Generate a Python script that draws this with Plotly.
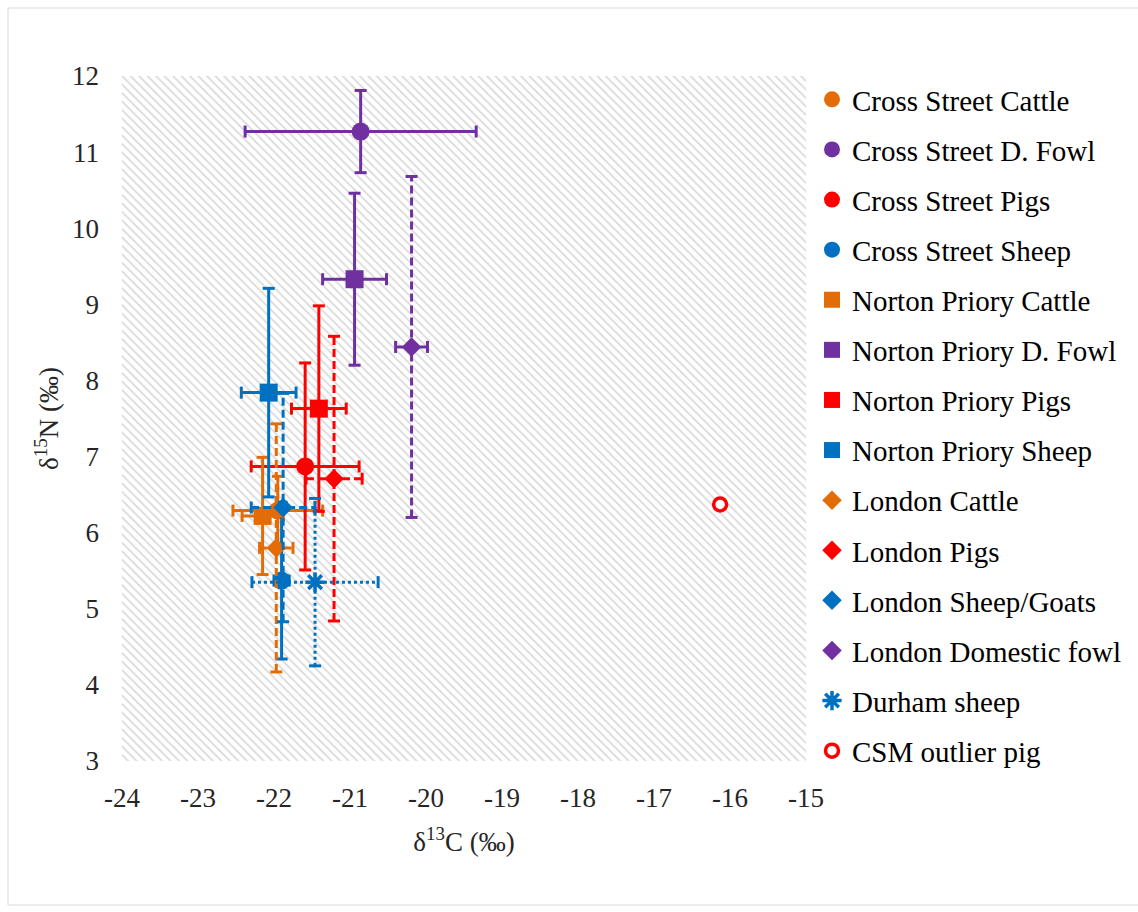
import plotly.graph_objects as go

# ---------------- data ----------------
series_names = [
    "Cross Street Cattle", "Cross Street D. Fowl", "Cross Street Pigs", "Cross Street Sheep",
    "Norton Priory Cattle", "Norton Priory D. Fowl", "Norton Priory Pigs", "Norton Priory Sheep",
    "London Cattle", "London Pigs", "London Sheep/Goats", "London Domestic fowl",
    "Durham sheep", "CSM outlier pig",
]
d13C = [-21.95, -20.86, -21.59, -21.90,
        -22.15, -20.94, -21.41, -22.07,
        -21.97, -21.21, -21.88, -20.19,
        -21.46, -16.13]
d15N = [6.29, 11.27, 6.87, 5.37,
        6.22, 9.33, 7.63, 7.84,
        5.80, 6.71, 6.33, 8.44,
        5.35, 6.37]
d13C_err = [0.59, 1.52, 0.71, 0.10,
            0.27, 0.42, 0.36, 0.36,
            0.22, 0.37, 0.42, 0.21,
            0.83, None]
d15N_err = [0.45, 0.54, 1.36, 1.03,
            0.77, 1.13, 1.35, 1.37,
            1.63, 1.87, 1.50, 2.24,
            1.10, None]

x_ticks = [-24, -23, -22, -21, -20, -19, -18, -17, -16, -15]
y_ticks = [3, 4, 5, 6, 7, 8, 9, 10, 11, 12]

# ---------------- styles ----------------
ORANGE, PURPLE, RED, BLUE = "#E36C09", "#7030A0", "#FF0000", "#0070C0"
colors = [ORANGE, PURPLE, RED, BLUE, ORANGE, PURPLE, RED, BLUE,
          ORANGE, RED, BLUE, PURPLE, BLUE, RED]
symbols = ["circle"] * 4 + ["square"] * 4 + ["diamond"] * 4 + ["asterisk-open", "circle"]
sizes = [18] * 4 + [18] * 4 + [15] * 4 + [16, 13]
dashes = ["solid"] * 8 + ["8px,4px"] * 4 + ["3px,3px", "solid"]

W, H = 1138, 912
ML, MR, MT, MB = 122, 332, 76, 151
plot_w, plot_h = W - ML - MR, H - MT - MB
x_range = [x_ticks[0], x_ticks[-1]]
y_range = [y_ticks[0], y_ticks[-1]]
dx_px = (x_range[1] - x_range[0]) / plot_w
dy_px = (y_range[1] - y_range[0]) / plot_h
CAP = 6  # cap half-length in px
FONT = "Liberation Serif"

fig = go.Figure()

# hatched plot background
fig.add_trace(go.Scatter(
    x=[x_range[0], x_range[1], x_range[1], x_range[0], x_range[0]],
    y=[y_range[0], y_range[0], y_range[1], y_range[1], y_range[0]],
    mode="lines", fill="toself", line=dict(width=0),
    fillcolor="white",
    fillpattern=dict(shape="\\", fgcolor="#b4b4b4", bgcolor="white", size=6, solidity=0.3),
    hoverinfo="skip", showlegend=False,
))

for i, name in enumerate(series_names):
    x, y, ex, ey = d13C[i], d15N[i], d13C_err[i], d15N_err[i]
    c = colors[i]
    if ex is not None:
        fig.add_trace(go.Scatter(
            x=[x - ex, x + ex, None, x, x],
            y=[y, y, None, y - ey, y + ey],
            mode="lines", line=dict(color=c, width=3, dash=dashes[i]),
            hoverinfo="skip", showlegend=False, legendgroup=name,
        ))
        cw, ch = CAP * dx_px, CAP * dy_px
        fig.add_trace(go.Scatter(
            x=[x - ex, x - ex, None, x + ex, x + ex, None,
               x - cw, x + cw, None, x - cw, x + cw],
            y=[y - ch, y + ch, None, y - ch, y + ch, None,
               y - ey, y - ey, None, y + ey, y + ey],
            mode="lines", line=dict(color=c, width=3),
            hoverinfo="skip", showlegend=False, legendgroup=name,
        ))
    if symbols[i] == "asterisk-open":
        mk = dict(symbol="asterisk-open", size=sizes[i], color=c, line=dict(color=c, width=3.5))
    elif name == "CSM outlier pig":
        mk = dict(symbol="circle", size=sizes[i], color="white", line=dict(color=c, width=3.5))
    else:
        mk = dict(symbol=symbols[i], size=sizes[i], color=c, line=dict(width=0))
    fig.add_trace(go.Scatter(
        x=[x], y=[y], mode="markers", name=name, marker=mk, legendgroup=name,
    ))

axis_font = dict(family=FONT, size=27, color="#262626")
fig.update_layout(
    width=W, height=H,
    margin=dict(l=ML, r=MR, t=MT, b=MB, autoexpand=False),
    paper_bgcolor="white", plot_bgcolor="white",
    font=dict(family=FONT, color="#000000"),
    showlegend=True,
    legend=dict(
        x=(812 - ML) / plot_w, xanchor="left", y=1.0 + 2 / plot_h, yanchor="top",
        font=dict(family=FONT, size=29, color="#000000"),
        tracegroupgap=9.4, traceorder="grouped",
        bgcolor="rgba(0,0,0,0)", itemwidth=30, maxheight=1000,
    ),
    xaxis=dict(
        range=x_range, tickvals=x_ticks, ticktext=[str(v) for v in x_ticks],
        showgrid=False, zeroline=False, showline=False, ticks="",
        tickfont=axis_font, ticklabelstandoff=18,
        title=dict(text="δ<sup>13</sup>C (‰)", font=axis_font, standoff=20),
        automargin=False,
    ),
    yaxis=dict(
        range=y_range, tickvals=y_ticks, ticktext=[str(v) for v in y_ticks],
        showgrid=False, zeroline=False, showline=False, ticks="",
        tickfont=axis_font, ticklabelstandoff=22,
        title=dict(text="δ<sup>15</sup>N (‰)", font=axis_font, standoff=5),
        automargin=False,
    ),
    shapes=[dict(
        type="rect", xref="paper", yref="paper",
        x0=(8 - ML) / plot_w, x1=(1150 - ML) / plot_w,
        y0=(H - MB - 905) / plot_h, y1=(H - MB - 8) / plot_h,
        line=dict(color="#d9d9d9", width=1), fillcolor="rgba(0,0,0,0)", layer="below",
    )],
)

fig.write_html("out.html")
